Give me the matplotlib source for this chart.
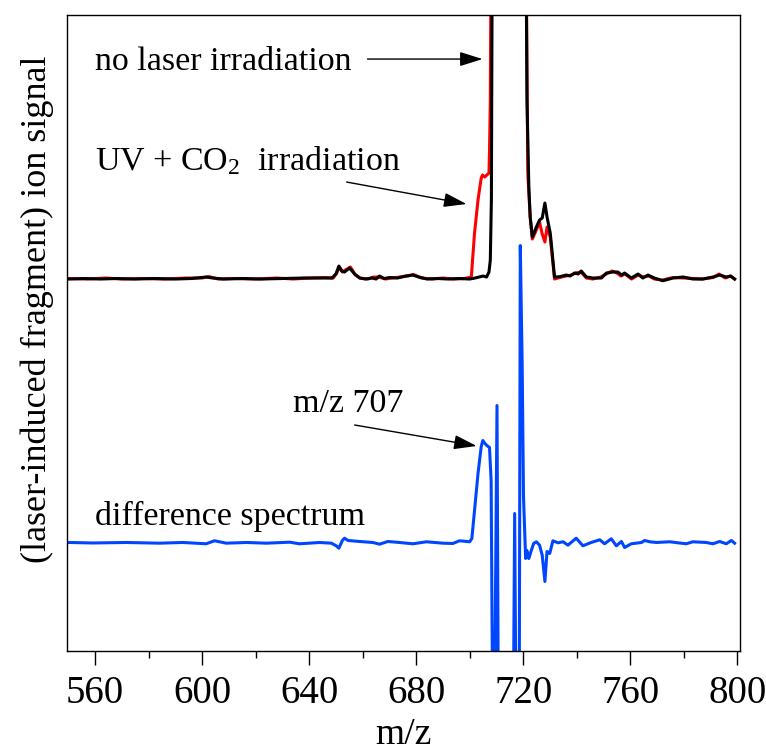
import matplotlib
matplotlib.use("Agg")
import matplotlib.pyplot as plt
from matplotlib.ticker import FixedLocator

plt.rcParams["font.family"] = ["Liberation Serif", "DejaVu Serif"]
plt.rcParams["mathtext.fontset"] = "custom"
plt.rcParams["mathtext.rm"] = "Liberation Serif"
plt.rcParams["mathtext.it"] = "Liberation Serif:italic"

# ---- spectra (m/z, ion signal in arbitrary units) ----
# ion signal without laser irradiation
mz_dark = [550.4, 556, 562, 568, 575, 582, 590, 596, 601.5, 604, 608, 615, 622, 630,
           638, 645, 648.5, 650, 651.1, 652.2, 653.2, 655.1, 657, 658.9, 661, 663.5,
           665, 666.3, 668, 670, 673, 676, 678.7, 681, 684, 688, 692, 696, 700, 702,
           703.5, 705, 706.3, 707.2, 707.7, 708.1, 708.5, 714.5, 720.9, 721.4, 722.1,
           722.6, 723.4, 724.9, 726.1, 727.1, 728.1, 728.9, 730.1, 731.7, 733.6, 736.1,
           737.5, 739.2, 740.5, 741.7, 743.6, 746, 749.2, 751.1, 753.5, 755.4, 756.7,
           757.9, 760.4, 762.9, 764.7, 766.6, 769, 772.2, 776, 779.8, 783.4, 787.1,
           790.9, 793.4, 795.9, 797.5, 799]
sig_dark = [0, 0.5, 0, 0.5, 0, 0.5, 0, 0.5, 2, 1, 0, 0.5, 0, 0.5,
            1, 1, 1, 5, 13, 8, 7, 11, 5, 1, 0, 1,
            0, 3, 0.5, 1.5, 1, 3, 4, 2, 0, 0.5, 0, 0.5, 0, 1,
            2, 3, 2, 7, 19, 80, 400, 600, 400, 179, 92,
            62, 42, 52, 59, 61, 76, 62, 46, 2, 2.3, 4,
            3, 6, 5, 8, 2, 1, 1, 6, 7, 7, 4,
            6, 1, 5, 1, 4, 1, -1.7, 1, 2, 0, 0,
            2, 4, 2, 3, 0]

# ion signal with UV + CO2 laser irradiation
mz_uv = [550.4, 557, 564, 570, 578, 586, 594, 600, 602.5, 606, 612, 620, 628, 634,
         640, 646, 649, 650.3, 651.3, 652.4, 653.5, 655.4, 657.3, 659, 662, 664, 666,
         668.5, 671, 674, 677, 679, 682, 686, 690, 694, 698, 700.6, 701.8, 703.1,
         704.3, 704.8, 705.6, 706.4, 707.2, 707.4, 707.7, 708.1, 714.5, 720.9, 721.7,
         722.6, 723.4, 724.9, 726.1, 727.1, 728.1, 728.9, 730.1, 731.7, 733.6, 736,
         738, 739.5, 741.5, 743.6, 746, 749, 751, 753.2, 755, 756.5, 758, 760.5, 763,
         765, 767, 769, 772, 776, 780, 784, 787, 791, 793.2, 795.5, 797.5, 799]
sig_uv = [0.5, 0, 1, 0, 0.5, 0, 1, 1, 2.5, 0, 0.5, 0, 1, 0,
          1, 1.5, 1, 6, 12, 7, 9, 12, 4, 1, 0, 2, 2,
          0, 1, 2, 3, 4.5, 1, 0, 1, 0, 0.5, 2, 46, 79,
          101, 104, 102, 104, 106, 129, 179, 400, 600, 400, 106,
          62, 40, 49, 57, 45, 37, 52, 42, 0, 1.5, 3,
          4, 6, 7, 1, 0, 2, 5, 8, 6, 3, 5, 0, 4,
          2, 3, 0, -1, 1.5, 1, 0.5, 0, 1.5, 5, 1, 3, 0]

# difference spectrum (UV + CO2 minus no laser)
mz_diff = [550.4, 559.1, 571.6, 584, 592.7, 601.5, 604.6, 609, 616.5, 624, 632.7,
           636.4, 643.9, 648.3, 650.1, 651.1, 652.4, 653.2, 654.5, 658.8, 663.8, 666.3,
           669.4, 673.7, 678.8, 683.8, 690, 693.7, 696.2, 700, 700.8, 701.8, 703.1,
           704.3, 704.9, 705.7, 706.4, 707.4, 708, 708.9, 710.2, 710.9, 713.5, 716,
           716.8, 717.6, 718.4, 718.9, 719.6, 720.1, 720.9, 721.4, 722.1, 722.9, 723.9,
           724.9, 726.1, 727.1, 728.1, 728.9, 729.9, 731.1, 733, 734.9, 736.7, 739.8,
           742.3, 745.4, 748.6, 750.4, 752.9, 754.8, 756.7, 757.9, 760.4, 764.2, 765.4,
           767.3, 769.8, 774.7, 780.9, 783.4, 788.4, 790.9, 793.4, 795.9, 797.8, 799]
sig_diff = [0, -0.5, 0, -0.7, 0, -1.3, 1.7, -0.7, 0, -0.7, 0.3,
            -1.3, 0, -0.7, -3.3, -5.7, 2, 4.3, 2, 1, 0, -1.7,
            1, 0, -1.3, 0.7, -0.7, -1, 1.7, 0.7, 4, 32, 69,
            96, 102, 99, 97, 95, 62, -300, 137, -300, -600, -300,
            29, -300, -300, 297, 179, 46, -16, -8, -16, -9, -1,
            0.7, -2.7, -12.7, -39, -9, -11, 1.7, -0.3, 0.7, -2.7, 4.3,
            -3.3, 0, 2.7, -1.3, 3.7, -3.3, 1, -5, -1.3, 0, 2,
            0.7, 0, 0.7, -1.3, 0.7, 0, -1.3, 1, -1.3, 2, -0.7]

# vertical offset of the two raw spectra above the difference spectrum
raw_offset = 263.5

x_ticks = [560, 600, 640, 680, 720, 760, 800]
x_minor = [580, 620, 660, 700, 740, 780]

fig = plt.figure(figsize=(7.66, 7.53), dpi=100)
ax = fig.add_axes([0.0875, 0.1355, 0.8785, 0.8445])

ax.plot(mz_uv, [v + raw_offset for v in sig_uv], color="#ff0000", lw=2.2,
        solid_joinstyle="round")
ax.plot(mz_dark, [v + raw_offset for v in sig_dark], color="#000000", lw=2.2,
        solid_joinstyle="round")
ax.plot(mz_diff, sig_diff, color="#0046ff", lw=2.2, solid_joinstyle="round")

ax.set_xlim(549.5, 801)
ax.set_ylim(-108.5, 527.5)

ax.xaxis.set_major_locator(FixedLocator(x_ticks))
ax.xaxis.set_minor_locator(FixedLocator(x_minor))
ax.set_yticks([])
ax.tick_params(axis="x", which="major", direction="out", length=10, width=1.0,
               labelsize=28, pad=7)
ax.tick_params(axis="x", which="minor", direction="out", length=5, width=1.0)
for s in ax.spines.values():
    s.set_linewidth(1.0)

# axis titles
fig.text(403 / 766, 1.5 / 753, "m/z", ha="center", va="bottom", fontsize=27)
fig.text(37 / 766, 1 - 309 / 753, "(laser-induced fragment) ion signal",
         rotation=90, ha="center", va="center", fontsize=26)

# labels and arrows
ax.text(560, 472.5, "no laser irradiation", fontsize=24.5, va="baseline")
ax.text(560, 372.5, "UV + CO$_2$  irradiation", fontsize=24.5, va="baseline")
ax.text(633.8, 130.5, "m/z 707", fontsize=24.5, va="baseline")
ax.text(560, 17.5, "difference spectrum", fontsize=24.5, va="baseline")

arrow = dict(arrowstyle="-|>,head_length=0.7,head_width=0.22", color="black",
             lw=1.0, shrinkA=0, shrinkB=0, mutation_scale=20)
ax.annotate("", xy=(704.8, 483.5), xytext=(661.8, 483.5), arrowprops=arrow)
ax.annotate("", xy=(698.8, 338.5), xytext=(654.0, 360.5), arrowprops=arrow)
ax.annotate("", xy=(702.6, 96.5), xytext=(657.0, 117.5), arrowprops=arrow)

fig.savefig("out.png", dpi=100)
